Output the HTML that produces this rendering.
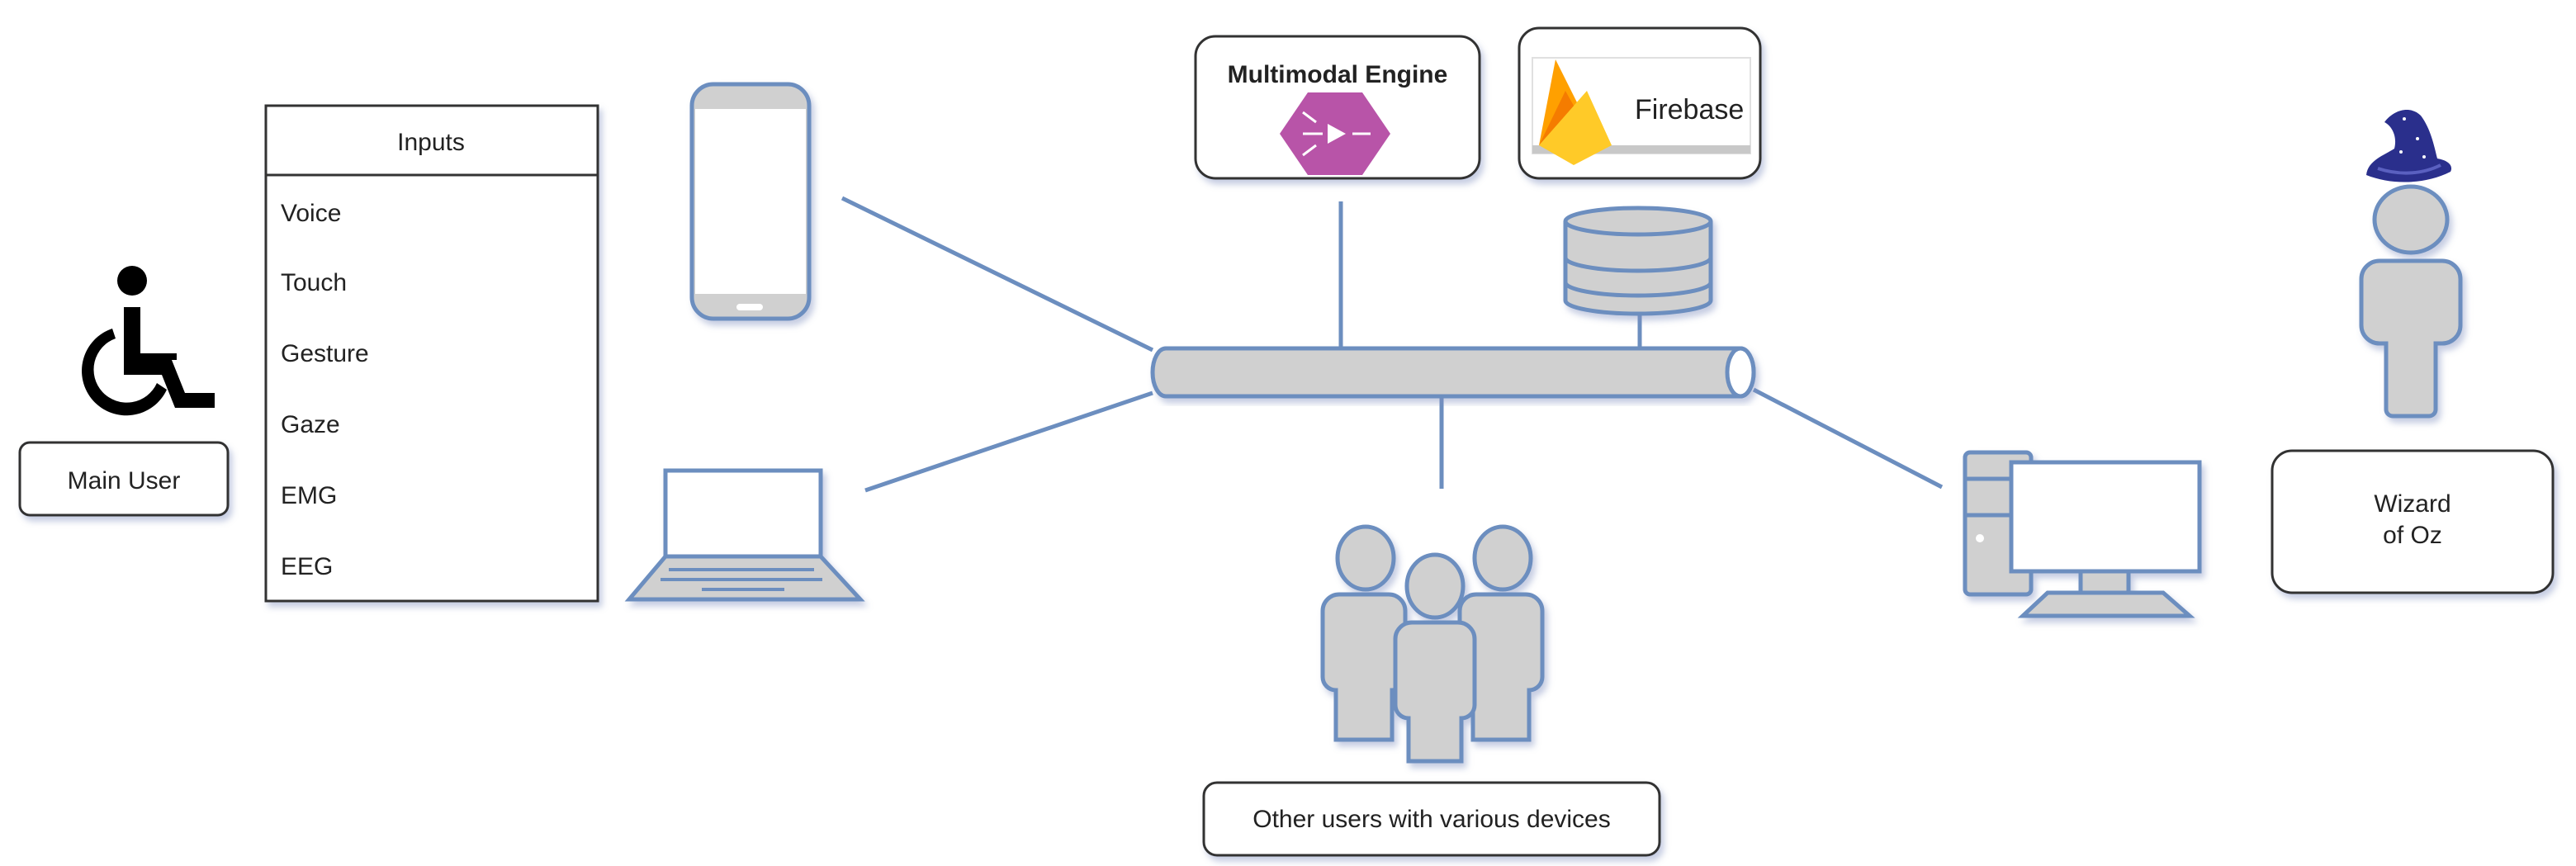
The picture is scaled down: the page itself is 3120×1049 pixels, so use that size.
<!DOCTYPE html>
<html><head><meta charset="utf-8"><style>
html,body{margin:0;padding:0;background:#fff;}
svg{display:block;}
text{font-family:"Liberation Sans",Arial,sans-serif;fill:#222;}
</style></head><body>
<svg width="3120" height="1049" viewBox="0 0 1560 524.5" xmlns="http://www.w3.org/2000/svg">
<defs>
<filter id="sh" x="-10%" y="-10%" width="130%" height="130%"><feDropShadow dx="2" dy="3" stdDeviation="2" flood-color="#8090c0" flood-opacity="0.45"/></filter>
</defs>
<g stroke="#6c8ebf" stroke-width="2.5" fill="none">
<line x1="510" y1="120" x2="698" y2="212"/>
<line x1="524" y1="297" x2="698" y2="238"/>
<line x1="812" y1="122" x2="812" y2="212"/>
<line x1="993" y1="190" x2="993" y2="212"/>
<line x1="873" y1="240" x2="873" y2="296"/>
<line x1="1062" y1="236" x2="1176" y2="295"/>
</g>
<!-- wheelchair -->
<g fill="#000">
<circle cx="80" cy="170" r="9"/>
<path d="M75 186 h10 v28 h22 v4 h-3 l8 20 h18 v9 h-24 l-8 -20 h-23 z"/>
<path d="M68 199 a27 27 0 1 0 33 37 l-6 -4 a20 20 0 1 1 -25 -27 z"/>
</g>
<g filter="url(#sh)">
<rect x="12" y="268" width="126" height="44" rx="6" fill="#fff" stroke="#333" stroke-width="1.5"/>
</g>
<text x="75" y="296" font-size="15" text-anchor="middle">Main User</text>
<!-- Inputs -->
<g filter="url(#sh)">
<rect x="161" y="64" width="201" height="300" fill="#fff" stroke="#333" stroke-width="1.5"/>
</g>
<line x1="161" y1="106" x2="362" y2="106" stroke="#333" stroke-width="1.5"/>
<text x="261" y="91" font-size="15" text-anchor="middle">Inputs</text>
<g font-size="15">
<text x="170" y="134">Voice</text>
<text x="170" y="176">Touch</text>
<text x="170" y="219">Gesture</text>
<text x="170" y="262">Gaze</text>
<text x="170" y="305">EMG</text>
<text x="170" y="348">EEG</text>
</g>
<!-- phone -->
<g filter="url(#sh)">
<rect x="419" y="51" width="71" height="142" rx="13" fill="#d0d0d0" stroke="#6c8ebf" stroke-width="2.5"/>
<rect x="421" y="66" width="67" height="112" fill="#fff"/>
<rect x="446" y="184" width="16" height="4" rx="2" fill="#fff"/>
</g>
<!-- laptop -->
<g filter="url(#sh)" stroke="#6c8ebf" stroke-width="2.5">
<rect x="403" y="285" width="94" height="52" fill="#fff"/>
<path d="M403 337 L497 337 L521 363 L381 363 Z" fill="#d0d0d0"/>
<g stroke-width="2"><line x1="405" y1="345" x2="493" y2="345"/><line x1="400" y1="351" x2="498" y2="351"/><line x1="425" y1="357" x2="475" y2="357"/></g>
</g>
<!-- pipe -->
<g filter="url(#sh)" stroke="#6c8ebf" stroke-width="2.5">
<path d="M706 211 H1054 A8 14.5 0 0 1 1054 240 H706 A8 14.5 0 0 1 706 211 Z" fill="#d0d0d0"/>
<ellipse cx="1054" cy="225.5" rx="8" ry="14.5" fill="#fff"/>
</g>
<!-- multimodal -->
<g filter="url(#sh)">
<rect x="724" y="22" width="172" height="86" rx="12" fill="#fff" stroke="#333" stroke-width="1.5"/>
</g>
<text x="810" y="50" font-size="15" text-anchor="middle" font-weight="bold" fill="#111">Multimodal Engine</text>
<path d="M792 56 L825 56 L842 81 L825 106 L792 106 L775 81 Z" fill="#b854a8"/>
<path d="M804 75 L815 81 L804 87 Z" fill="#fff"/>
<g stroke="#fff" stroke-width="1.5"><line x1="789" y1="81" x2="801" y2="81"/><line x1="819" y1="81" x2="830" y2="81"/><line x1="789" y1="68" x2="797" y2="74"/><line x1="789" y1="94" x2="797" y2="88"/></g>
<!-- firebase -->
<g filter="url(#sh)">
<rect x="920" y="17" width="146" height="91" rx="12" fill="#fff" stroke="#333" stroke-width="1.5"/>
</g>
<rect x="928" y="35" width="132" height="58" fill="#fff" stroke="#e0e0e0"/>
<rect x="928" y="88" width="132" height="5" fill="#c8c8c8"/>
<path d="M932 88 L942 36 L955 62 Z" fill="#ffa000"/>
<path d="M932 88 L948 55 L962 80 Z" fill="#f57c00"/>
<path d="M932 88 L961 55 L976 88 L953 100 Z" fill="#ffca28"/>
<text x="990" y="72" font-size="17" fill="#aaa">Firebase</text>
<!-- database -->
<g filter="url(#sh)" stroke="#6c8ebf" stroke-width="2.5" fill="#d0d0d0">
<path d="M948 134 V182 A44 8 0 0 0 1036 182 V134"/>
<ellipse cx="992" cy="134" rx="44" ry="8"/>
<path d="M948 156 A44 8 0 0 0 1036 156" fill="none"/>
<path d="M948 171 A44 8 0 0 0 1036 171" fill="none"/>
</g>
<!-- group -->
<g filter="url(#sh)" stroke="#6c8ebf" stroke-width="2.5" fill="#d0d0d0">
<ellipse cx="827" cy="338" rx="17" ry="19"/>
<path d="M813 360 h28 a10 10 0 0 1 10 10 v40 a8 8 0 0 1 -8 8 v30 h-34 v-30 a8 8 0 0 1 -8 -8 v-40 a10 10 0 0 1 10 -10 z"/>
<ellipse cx="910" cy="338" rx="17" ry="19"/>
<path d="M896 360 h28 a10 10 0 0 1 10 10 v40 a8 8 0 0 1 -8 8 v30 h-34 v-30 a8 8 0 0 1 -8 -8 v-40 a10 10 0 0 1 10 -10 z"/>
<ellipse cx="869" cy="355" rx="17" ry="19"/>
<path d="M855 377 h28 a10 10 0 0 1 10 10 v40 a8 8 0 0 1 -8 8 v26 h-32 v-26 a8 8 0 0 1 -8 -8 v-40 a10 10 0 0 1 10 -10 z"/>
</g>
<g filter="url(#sh)">
<rect x="729" y="474" width="276" height="44" rx="8" fill="#fff" stroke="#333" stroke-width="1.5"/>
</g>
<text x="867" y="501" font-size="15" text-anchor="middle">Other users with various devices</text>
<!-- PC -->
<g filter="url(#sh)" stroke="#6c8ebf" stroke-width="2.5" fill="#d0d0d0">
<rect x="1190" y="274" width="40" height="86" rx="3"/>
<line x1="1190" y1="290" x2="1218" y2="290"/>
<line x1="1190" y1="312" x2="1218" y2="312"/>
<rect x="1260" y="345" width="29" height="14"/>
<path d="M1240 359 H1310 L1326 373 H1225 Z"/>
<rect x="1218" y="280" width="114" height="66" fill="#fff"/>
</g>
<circle cx="1199" cy="326" r="2.5" fill="#fff"/>
<!-- wizard -->
<g filter="url(#sh)" stroke="#6c8ebf" stroke-width="2.5" fill="#d0d0d0">
<ellipse cx="1460" cy="133" rx="22" ry="20"/>
<path d="M1441 158 h38 a11 11 0 0 1 11 11 v28 a11 11 0 0 1 -11 11 h-4 v40 a4 4 0 0 1 -4 4 h-22 a4 4 0 0 1 -4 -4 v-40 h-4 a11 11 0 0 1 -11 -11 v-28 a11 11 0 0 1 11 -11 z"/>
</g>
<path d="M1433 106 C1434 97 1444 94 1450 90 C1452 82 1448 76 1444 74 C1450 66 1460 64 1466 70 C1472 78 1474 88 1476 96 C1482 97 1486 100 1484 104 C1468 112 1448 112 1433 106 Z" fill="#2a2f8c"/>
<path d="M1440 102 C1452 106 1466 106 1478 100" stroke="#5a60c0" stroke-width="2" fill="none"/>
<g fill="#fff"><circle cx="1456" cy="72" r="1"/><circle cx="1464" cy="84" r="1"/><circle cx="1454" cy="92" r="1"/><circle cx="1468" cy="95" r="1"/></g>
<g filter="url(#sh)">
<rect x="1376" y="273" width="170" height="86" rx="12" fill="#fff" stroke="#333" stroke-width="1.5"/>
</g>
<text x="1461" y="310" font-size="15" text-anchor="middle">Wizard</text>
<text x="1461" y="329" font-size="15" text-anchor="middle">of Oz</text>
</svg>
</body></html>
